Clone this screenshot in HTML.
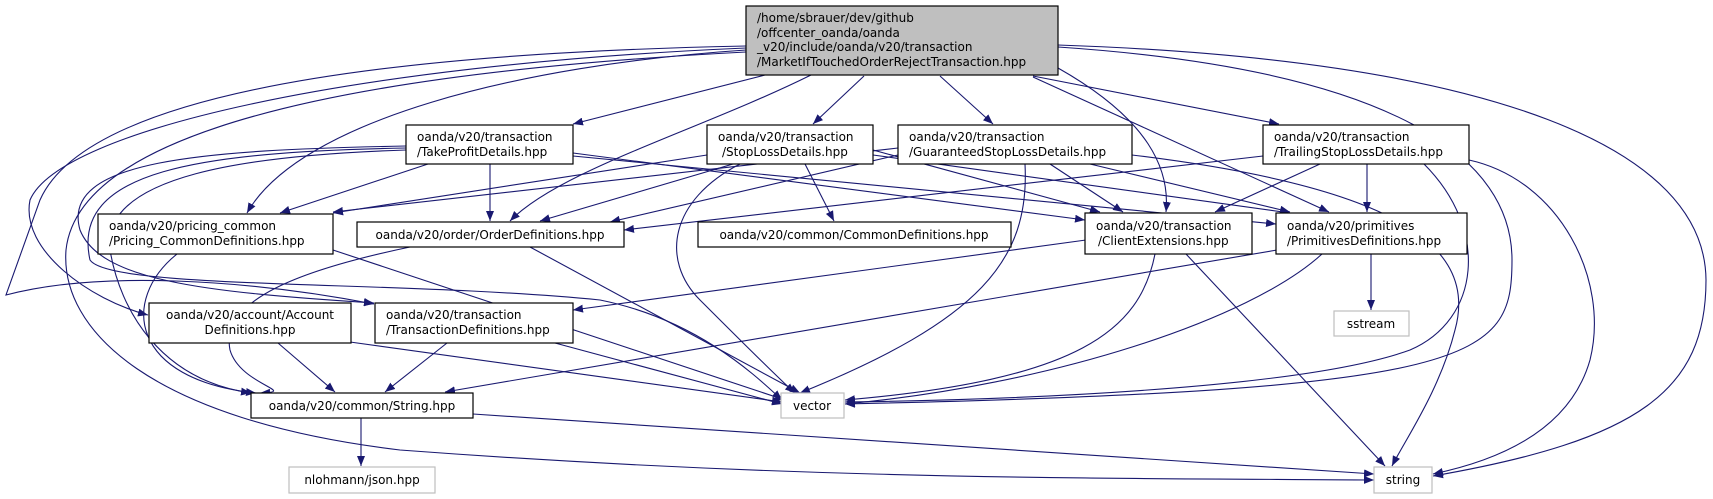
<!DOCTYPE html>
<html><head><meta charset="utf-8"><style>
html,body{margin:0;padding:0;background:#fff;}
svg{display:block;}
text{font-family:"DejaVu Sans","Liberation Sans",sans-serif;font-size:12px;fill:#000;}
.e{fill:none;stroke:#191970;stroke-width:1.1;}
.n{fill:#fff;stroke:#000;stroke-width:1.2;}
.g{fill:#fff;stroke:#bfbfbf;stroke-width:1.2;}
</style></head><body>
<svg width="1713" height="499" viewBox="0 0 1713 499" xmlns="http://www.w3.org/2000/svg">
<defs><marker id="a" viewBox="0 0 10 8" refX="10" refY="4" markerWidth="10" markerHeight="8" markerUnits="userSpaceOnUse" orient="auto"><path d="M0,0 L10,4 L0,8 z" fill="#191970"/></marker></defs>
<g marker-end="url(#a)">
<!-- main -->
<path class="e" d="M765,75 L573,124"/>
<path class="e" d="M864,76 L813,124"/>
<path class="e" d="M940,76 L993,124"/>
<path class="e" d="M1033,76 L1279,124"/>
<path class="e" d="M811,75 C700,130 560,170 510,221"/>
<path class="e" d="M746,50 C520,65 300,120 247,213"/>
<path class="e" d="M746,48 C350,65 60,130 30,200 C20,250 90,300 148,315"/>
<path class="e" d="M746,46 C300,55 80,110 40,200 L6,295 C100,270 250,280 374,304"/>
<path class="e" d="M746,52 C400,70 80,120 66,250 C60,330 150,420 400,450 C800,480 1100,478 1374,480"/>
<path class="e" d="M1058,45 C1500,60 1705,150 1706,280 C1706,390 1640,440 1433,476"/>
<path class="e" d="M1058,47 C1400,70 1512,160 1512,260 C1512,360 1480,390 845,404"/>
<path class="e" d="M1058,68 C1150,120 1170,170 1166,212"/>
<path class="e" d="M1033,77 L1329,212"/>
<!-- TakeProfit -->
<path class="e" d="M428,164 L280,213"/>
<path class="e" d="M490,164 L490,221"/>
<path class="e" d="M573,153 L1085,220"/>
<path class="e" d="M573,156 L1276,224"/>
<path class="e" d="M406,146 C200,150 60,160 80,230 C100,280 200,292 374,303"/>
<path class="e" d="M406,148 C200,152 70,170 90,260 C110,290 400,280 600,300 C700,320 760,380 782,400"/>
<path class="e" d="M406,150 C250,155 100,175 110,250 C120,310 160,380 251,393"/>
<!-- StopLoss -->
<path class="e" d="M707,155 L333,213"/>
<path class="e" d="M733,164 L540,221"/>
<path class="e" d="M805,164 L834,221"/>
<path class="e" d="M873,150 L1100,212"/>
<path class="e" d="M873,155 L1290,213"/>
<path class="e" d="M740,164 C670,200 660,260 700,300 C740,340 780,380 795,393"/>
<!-- Guaranteed -->
<path class="e" d="M898,148 L333,212"/>
<path class="e" d="M898,155 L610,222"/>
<path class="e" d="M1050,164 L1123,212"/>
<path class="e" d="M1090,164 L1290,212"/>
<path class="e" d="M1025,164 C1030,260 980,320 800,393"/>
<path class="e" d="M1132,155 C1380,185 1480,240 1455,330 C1440,390 1405,440 1392,466"/>
<!-- Trailing -->
<path class="e" d="M1263,156 L624,230"/>
<path class="e" d="M1320,164 L1215,212"/>
<path class="e" d="M1367,164 L1367,212"/>
<path class="e" d="M1424,164 C1490,230 1480,320 1410,350 C1300,390 1000,400 845,402"/>
<path class="e" d="M1469,160 C1560,180 1610,280 1590,360 C1570,430 1500,460 1433,474"/>
<!-- second row -->
<path class="e" d="M177,254 C120,300 130,380 256,393"/>
<path class="e" d="M333,250 L785,400"/>
<path class="e" d="M410,247 C300,270 220,300 230,350 C240,385 300,392 260,393"/>
<path class="e" d="M530,247 L800,393"/>
<path class="e" d="M1086,240 L573,310"/>
<path class="e" d="M1155,254 C1140,330 1080,380 845,400"/>
<path class="e" d="M1186,254 L1385,466"/>
<path class="e" d="M1277,250 L445,392"/>
<path class="e" d="M1322,254 C1250,320 1050,385 845,404"/>
<path class="e" d="M1371,254 L1371,310"/>
<path class="e" d="M278,343 L335,392"/>
<path class="e" d="M350,342 L782,402"/>
<path class="e" d="M447,343 L385,392"/>
<path class="e" d="M555,343 L782,404"/>
<path class="e" d="M361,418 L361,466"/>
<path class="e" d="M473,414 L1374,474"/>
</g>
<!-- nodes -->
<rect x="746" y="6" width="312" height="69" fill="#bfbfbf" stroke="#000" stroke-width="1.2"/>
<text x="757" y="22">/home/sbrauer/dev/github</text>
<text x="757" y="37">/offcenter_oanda/oanda</text>
<text x="757" y="51">_v20/include/oanda/v20/transaction</text>
<text x="757" y="66">/MarketIfTouchedOrderRejectTransaction.hpp</text>

<rect class="n" x="406" y="125" width="167" height="39"/>
<text x="417" y="141">oanda/v20/transaction</text><text x="417" y="156">/TakeProfitDetails.hpp</text>
<rect class="n" x="707" y="125" width="166" height="39"/>
<text x="718" y="141">oanda/v20/transaction</text><text x="722" y="156">/StopLossDetails.hpp</text>
<rect class="n" x="898" y="125" width="234" height="39"/>
<text x="909" y="141">oanda/v20/transaction</text><text x="909" y="156">/GuaranteedStopLossDetails.hpp</text>
<rect class="n" x="1263" y="125" width="206" height="39"/>
<text x="1274" y="141">oanda/v20/transaction</text><text x="1274" y="156">/TrailingStopLossDetails.hpp</text>

<rect class="n" x="98" y="214" width="235" height="40"/>
<text x="109" y="230">oanda/v20/pricing_common</text><text x="109" y="245">/Pricing_CommonDefinitions.hpp</text>
<rect class="n" x="357" y="222" width="267" height="25"/>
<text x="490" y="239" text-anchor="middle">oanda/v20/order/OrderDefinitions.hpp</text>
<rect class="n" x="698" y="222" width="313" height="25"/>
<text x="854" y="239" text-anchor="middle">oanda/v20/common/CommonDefinitions.hpp</text>
<rect class="n" x="1085" y="213" width="167" height="41"/>
<text x="1096" y="230">oanda/v20/transaction</text><text x="1098" y="245">/ClientExtensions.hpp</text>
<rect class="n" x="1276" y="213" width="191" height="41"/>
<text x="1287" y="230">oanda/v20/primitives</text><text x="1287" y="245">/PrimitivesDefinitions.hpp</text>

<rect class="g" x="1334" y="311" width="75" height="25"/>
<text x="1371" y="328" text-anchor="middle">sstream</text>
<rect class="n" x="149" y="303" width="202" height="40"/>
<text x="250" y="319" text-anchor="middle">oanda/v20/account/Account</text><text x="250" y="334" text-anchor="middle">Definitions.hpp</text>
<rect class="n" x="375" y="303" width="198" height="40"/>
<text x="386" y="319">oanda/v20/transaction</text><text x="386" y="334">/TransactionDefinitions.hpp</text>

<rect class="n" x="251" y="393" width="222" height="25"/>
<text x="362" y="410" text-anchor="middle">oanda/v20/common/String.hpp</text>
<rect class="g" x="781" y="393" width="63" height="25"/>
<text x="812" y="410" text-anchor="middle">vector</text>
<rect class="g" x="289" y="467" width="146" height="26"/>
<text x="362" y="484" text-anchor="middle">nlohmann/json.hpp</text>
<rect class="g" x="1374" y="467" width="58" height="26"/>
<text x="1403" y="484" text-anchor="middle">string</text>
</svg>
</body></html>
